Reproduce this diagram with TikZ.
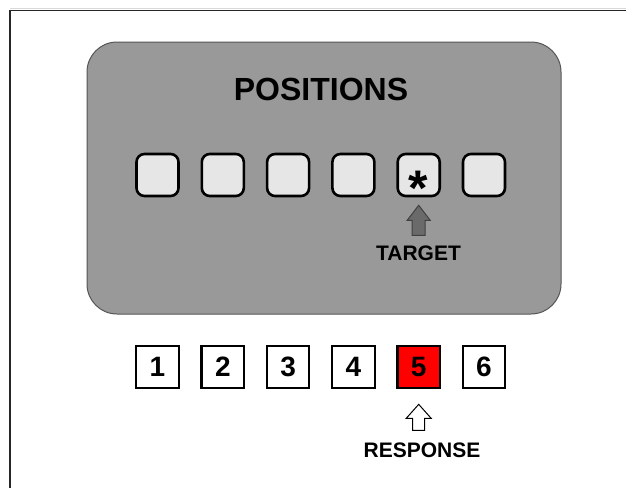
\documentclass[tikz,border=0pt]{standalone}
\usepackage{fontspec}
\setmainfont{Liberation Sans}
\definecolor{panelgray}{HTML}{999999}
\definecolor{paneledge}{HTML}{555555}
\definecolor{slotfill}{HTML}{E6E6E6}
\definecolor{arrowgray}{HTML}{6A6A6A}
\definecolor{respred}{HTML}{FF0000}
\tikzset{
  panel/.style={draw=paneledge, line width=1pt, fill=panelgray, rounded corners=30pt,
    minimum width=474pt, minimum height=272pt, inner sep=0pt},
  slot/.style={draw=black, line width=2.6pt, fill=slotfill, rounded corners=8pt,
    minimum size=42pt, inner sep=0pt},
  numbox/.style={draw=black, line width=2.2pt, fill=white,
    minimum size=42.5pt, inner sep=0pt, font=\bfseries\fontsize{28}{30}\selectfont},
  label/.style={inner sep=0pt, font=\bfseries\fontsize{21}{24}\selectfont},
  title/.style={inner sep=0pt, font=\bfseries\fontsize{32}{36}\selectfont},
  blockarrow/.style={line width=1pt, line join=miter}
}
\begin{document}
\begin{tikzpicture}[x=1pt,y=-1pt]
\useasboundingbox (0,0) rectangle (626,488);
\fill[white] (0,0) rectangle (626,488);
\draw[black!15, line width=0.8pt] (10,8.5) -- (626,8.5);
\draw[black!85, line width=1.5pt] (10,488) -- (10,10.5) -- (626,10.5);

% panel
\node[panel] (panel) at (324,178) {};
\node[title] (title) at (321,89.5) {POSITIONS};

% slots
\foreach \i/\x in {1/157.5,2/222.8,3/288.1,4/353.4,5/418.7,6/484}{
  \node[slot] (s\i) at (\x,175) {};
}
\node[font=\bfseries\fontsize{50}{50}\selectfont, inner sep=0pt, anchor=base] (star) at (418.7,205) {*};

% target arrow
\coordinate (ta) at ([yshift=-8pt]s5.south);
\draw[blockarrow, draw=black!75, fill=arrowgray]
  (ta) -- ++(11.5,15) -- ++(-5,0) -- ++(0,15) -- ++(-13,0) -- ++(0,-15) -- ++(-5,0) -- cycle;
\node[label] (target) at (418.5,253) {TARGET};

% number boxes
\foreach \i/\x in {1/157.5,2/222.8,3/288.1,4/353.4,6/484}{
  \node[numbox] (n\i) at (\x,367) {\i};
}
\node[numbox, fill=respred] (n5) at (418.7,367) {5};

% response arrow
\coordinate (ra) at ([yshift=-15pt]n5.south);
\draw[blockarrow, draw=black, fill=white]
  (ra) -- ++(12.5,14) -- ++(-6.5,0) -- ++(0,12) -- ++(-12,0) -- ++(0,-12) -- ++(-6.5,0) -- cycle;
\node[label] (response) at (422,450) {RESPONSE};
\end{tikzpicture}
\end{document}
